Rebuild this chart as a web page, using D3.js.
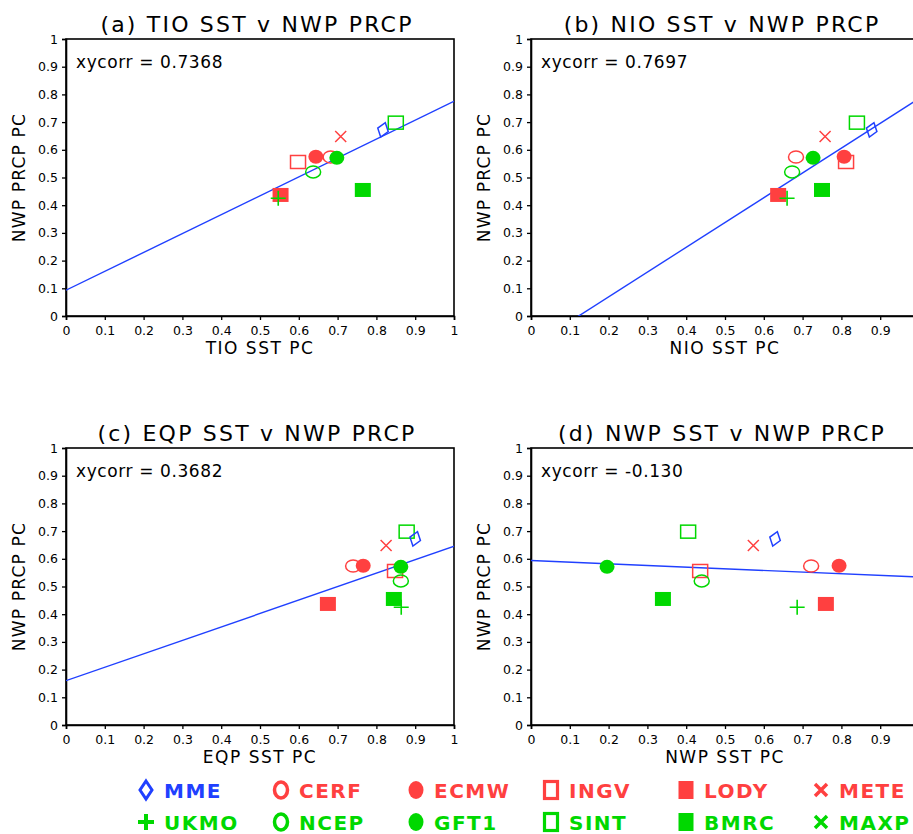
<!DOCTYPE html>
<html>
<head>
<meta charset="utf-8">
<script src="https://cdn.jsdelivr.net/npm/d3@7/dist/d3.min.js"></script>
<style>
  body { margin: 0; background: #fff; }
  svg { display: block; font-family: "DejaVu Sans", sans-serif; }
</style>
</head>
<body>
<svg id="svg" width="913" height="834"></svg>
<script>
// models, in legend order
const models = ["MME", "CERF", "ECMW", "INGV", "LODY", "METE",
                "UKMO", "NCEP", "GFT1", "SINT", "BMRC", "MAXP"];
const modelColor = ["blue", "red", "red", "red", "red", "red",
                    "green", "green", "green", "green", "green", "green"];
const modelMarker = ["diamond", "circleOpen", "circleFilled", "squareOpen", "squareFilled", "cross",
                     "plus", "circleOpen", "circleFilled", "squareOpen", "squareFilled", "cross"];

// NWP PRCP PC (y, same in every panel); MAXP has no value
const nwpPrcp = [0.672, 0.574, 0.575, 0.556, 0.437, 0.648, 0.425, 0.520, 0.571, 0.698, 0.455, null];
// SST PCs (x)
const tioSst = [0.817, 0.682, 0.644, 0.598, 0.553, 0.708, 0.547, 0.637, 0.698, 0.850, 0.765, null];
const nioSst = [0.878, 0.683, 0.807, 0.812, 0.637, 0.758, 0.660, 0.673, 0.727, 0.840, 0.750, null];
const eqpSst = [0.900, 0.740, 0.766, 0.848, 0.675, 0.825, 0.864, 0.863, 0.863, 0.878, 0.845, null];
const nwpSst = [0.629, 0.722, 0.794, 0.436, 0.760, 0.573, 0.686, 0.440, 0.196, 0.405, 0.340, null];

// panels
const panelLetters = ["a", "b", "c", "d"];
const panelRegions = ["TIO", "NIO", "EQP", "NWP"];
const panelX = [tioSst, nioSst, eqpSst, nwpSst];
const panelCorr = ["0.7368", "0.7697", "0.3682", "-0.130"];
// fitted line: intercept, slope
const fitIntercept = [0.093, -0.110, 0.160, 0.594];
const fitSlope = [0.682, 0.895, 0.485, -0.060];

const ticks = [0, 0.1, 0.2, 0.3, 0.4, 0.5, 0.6, 0.7, 0.8, 0.9, 1];

// marker draw order (later on top)
const drawOrder = [3, 4, 1, 2, 7, 9, 10, 8, 6, 5, 0];

const colors = { red: "#ff4040", green: "#00d800", blue: "#2040ff" };

const svg = d3.select("#svg");
const pageW = +svg.attr("width");
const W = 388, H = 277;
const origins = [[66, 39], [531, 39], [66, 448], [531, 448]];

const x = d3.scaleLinear().domain([0, 1]).range([0, W]);
const y = d3.scaleLinear().domain([0, 1]).range([H, 0]);

function drawMarker(g, type, color, big) {
  const c = colors[color];
  if (type === "diamond") {
    const w = big ? 6 : 5.5, h = big ? 9 : 7.5;
    g.append("path")
      .attr("d", `M0,${-h}L${w},0L0,${h}L${-w},0Z`)
      .attr("transform", big ? null : "rotate(18)")
      .attr("fill", "none").attr("stroke", c).attr("stroke-width", big ? 3 : 1.5);
  } else if (type === "circleOpen") {
    g.append("ellipse")
      .attr("rx", big ? 6.5 : 7.5).attr("ry", big ? 8 : 6)
      .attr("fill", "none").attr("stroke", c).attr("stroke-width", big ? 3.5 : 1.5);
  } else if (type === "circleFilled") {
    g.append("ellipse")
      .attr("rx", 7.5).attr("ry", big ? 9 : 7)
      .attr("fill", c);
  } else if (type === "squareOpen") {
    const w = big ? 13 : 15, h = big ? 17 : 13;
    g.append("rect")
      .attr("x", -w / 2).attr("y", -h / 2).attr("width", w).attr("height", h)
      .attr("fill", "none").attr("stroke", c).attr("stroke-width", big ? 3.2 : 1.5);
  } else if (type === "squareFilled") {
    const w = big ? 15 : 16, h = big ? 18 : 14;
    g.append("rect")
      .attr("x", -w / 2).attr("y", -h / 2).attr("width", w).attr("height", h)
      .attr("fill", c);
  } else if (type === "cross") {
    const a = big ? 6 : 5.5;
    g.append("path")
      .attr("d", `M${-a},${-a}L${a},${a}M${-a},${a}L${a},${-a}`)
      .attr("stroke", c).attr("stroke-width", big ? 3.5 : 1.5);
  } else if (type === "plus") {
    const a = big ? 8 : 7.5;
    g.append("path")
      .attr("d", `M${-a},0L${a},0M0,${-a}L0,${a}`)
      .attr("stroke", c).attr("stroke-width", big ? 4 : 1.6);
  }
}

panelLetters.forEach((letter, p) => {
  const [ox, oy] = origins[p];
  const g = svg.append("g").attr("transform", `translate(${ox},${oy})`);

  g.append("clipPath").attr("id", "clip" + p)
    .append("rect").attr("width", W).attr("height", H);

  // frame
  g.append("rect").attr("width", W).attr("height", H)
    .attr("fill", "none").attr("stroke", "#000").attr("stroke-width", 1.6);

  // axes (tick labels that fall off the page are left out)
  const xTicks = ticks.filter(t => ox + x(t) + 6 < pageW);
  const fmt = d => d3.format("")(+d.toFixed(1));
  const xAxis = g.append("g").attr("transform", `translate(0,${H})`)
    .call(d3.axisBottom(x).tickValues(xTicks).tickSize(4).tickPadding(3).tickFormat(fmt));
  const yAxis = g.append("g")
    .call(d3.axisLeft(y).tickValues(ticks).tickSize(4).tickPadding(4).tickFormat(fmt));
  [xAxis, yAxis].forEach(ax => {
    ax.select(".domain").attr("stroke-width", 1.6);
    ax.selectAll(".tick line").attr("stroke-width", 1.3);
    ax.selectAll("text").attr("font-size", 12.5).attr("fill", "#000")
      .attr("font-family", "DejaVu Sans, sans-serif");
  });
  xAxis.selectAll("text").attr("dy", "0.95em");

  // title
  g.append("text")
    .attr("x", W / 2 - 3).attr("y", -7)
    .attr("text-anchor", "middle")
    .attr("font-size", 22).attr("letter-spacing", 2.2)
    .text(`(${letter}) ${panelRegions[p]} SST v NWP PRCP`);

  // axis titles
  g.append("text")
    .attr("x", W / 2).attr("y", H + 38)
    .attr("text-anchor", "middle")
    .attr("font-size", 17).attr("letter-spacing", 1.5)
    .text(`${panelRegions[p]} SST PC`);
  g.append("text")
    .attr("transform", `translate(-41,${H / 2}) rotate(-90)`)
    .attr("text-anchor", "middle")
    .attr("font-size", 17).attr("letter-spacing", 1.2)
    .text("NWP PRCP PC");

  // correlation label
  g.append("text")
    .attr("x", 10).attr("y", 29)
    .attr("font-size", 17).attr("letter-spacing", 0.6)
    .text(`xycorr = ${panelCorr[p]}`);

  // fitted line
  const line = d3.line().x(d => x(d[0])).y(d => y(d[1]));
  g.append("path")
    .attr("clip-path", `url(#clip${p})`)
    .attr("d", line([0, 1.2].map(v => [v, fitIntercept[p] + fitSlope[p] * v])))
    .attr("fill", "none").attr("stroke", colors.blue).attr("stroke-width", 1.4);

  // points
  const xs = panelX[p];
  drawOrder.forEach(i => {
    if (xs[i] == null || nwpPrcp[i] == null) return;
    const m = g.append("g").attr("transform", `translate(${x(xs[i])},${y(nwpPrcp[i])})`);
    drawMarker(m, modelMarker[i], modelColor[i], false);
  });
});

// legend
const legX = d3.scaleBand().domain(d3.range(6)).range([138, 948]);
const legY = [790, 822];
models.forEach((name, i) => {
  const col = i % 6, row = Math.floor(i / 6);
  const lx = legX(col), ly = legY[row];
  const m = svg.append("g").attr("transform", `translate(${lx + 8},${ly})`);
  drawMarker(m, modelMarker[i], modelColor[i], true);
  svg.append("text")
    .attr("x", lx + 26).attr("y", ly + 8)
    .attr("font-size", 20).attr("font-weight", "bold").attr("letter-spacing", 1.5)
    .attr("fill", colors[modelColor[i]])
    .text(name);
});
</script>
</body>
</html>
